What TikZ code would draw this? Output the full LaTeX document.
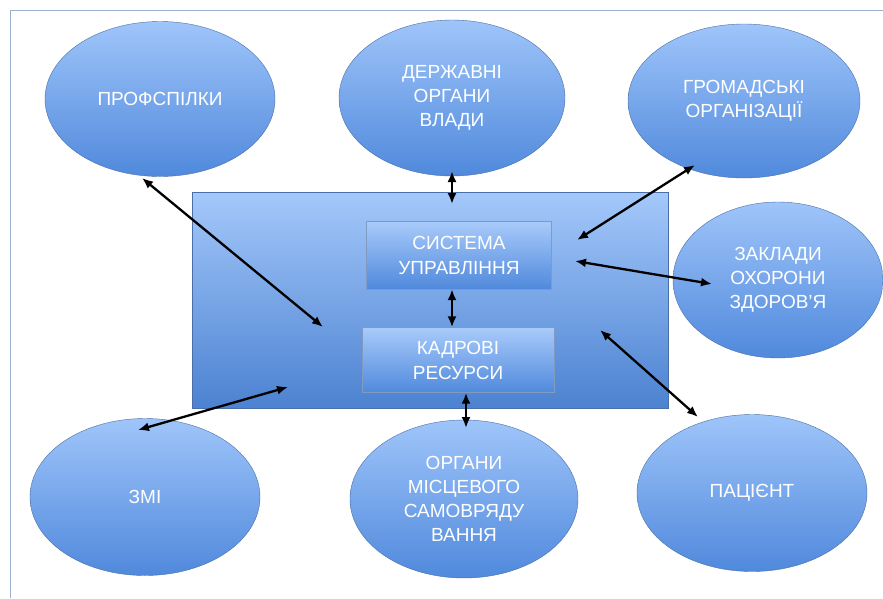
\documentclass[tikz,border=0pt]{standalone}
\usepackage{fontspec}
\setmainfont{Liberation Sans}
\usetikzlibrary{shapes.geometric,arrows.meta}

\definecolor{svitlyj}{HTML}{9FC5FA}
\definecolor{temnyj}{HTML}{5089DC}
\definecolor{kontur}{HTML}{4A6FA8}
\definecolor{ramka}{HTML}{9AB0CC}

\tikzset{
  kolo/.style={ellipse, draw=kontur, thin, top color=svitlyj, bottom color=temnyj,
    minimum width=230pt, minimum height=155pt, inner sep=0pt, text=white,
    align=center, font=\fontsize{19}{24}\selectfont},
  pole/.style={rectangle, draw=kontur, thin, top color=svitlyj!95!white, bottom color=temnyj!95!black,
    minimum width=476pt, minimum height=216pt},
  blok/.style={rectangle, draw=kontur!70, thin, top color=svitlyj!90!white, bottom color=temnyj,
    inner sep=0pt, text=white, align=center, font=\fontsize{19}{25}\selectfont},
  zv/.style={{Latex[length=11pt,width=9pt]}-{Latex[length=11pt,width=9pt]}, line width=2.3pt, black}
}

\begin{document}
\begin{tikzpicture}[x=1pt,y=-1pt]
\useasboundingbox (0,0) rectangle (883,598);
\fill[white] (0,0) rectangle (883,598);
\draw[ramka, line width=1pt] (883,10) -- (10,10) -- (10,598);

\node[pole] (pole) at (430,300) {};
\node[blok, minimum width=185pt, minimum height=68pt] (sys) at (459,255) {СИСТЕМА\\УПРАВЛІННЯ};
\node[blok, minimum width=192pt, minimum height=65pt] (kadr) at (458,360) {КАДРОВІ\\РЕСУРСИ};

\node[kolo] (prof) at (160,99) {ПРОФСПІЛКИ};
\node[kolo, minimum width=226pt, minimum height=156pt] (derzh) at (452,98) {ДЕРЖАВНІ\\ОРГАНИ\\ВЛАДИ};
\node[kolo, minimum width=232pt, minimum height=154pt] (hrom) at (744,101) {ГРОМАДСЬКІ\\ОРГАНІЗАЦІЇ};
\node[kolo, minimum width=210pt, minimum height=156pt] (zakl) at (778,280) {ЗАКЛАДИ\\ОХОРОНИ\\ЗДОРОВ’Я};
\node[kolo, minimum height=157pt] (zmi) at (145,497) {ЗМІ};
\node[kolo, minimum width=228pt, minimum height=158pt] (org) at (464,499) {ОРГАНИ\\МІСЦЕВОГО\\САМОВРЯДУ\\ВАННЯ};
\node[kolo, minimum height=157pt] (pac) at (752,493) {ПАЦІЄНТ};

\coordinate (k_prof) at (323,327);
\coordinate (k_derzh) at (452,204);
\coordinate (k_hrom) at (577,240);
\coordinate (k_zakl) at (575,261);
\coordinate (k_pac) at (600,330);
\coordinate (k_zmi) at (288,387);

\foreach \a/\d/\b in {prof/{(-18,79)}/k_prof, derzh/{(0,73)}/k_derzh, hrom/{(-49,64)}/k_hrom,
  zakl/{(-66,4)}/k_zakl, pac/{(-54,-76)}/k_pac, zmi/{(-7,-67)}/k_zmi} {
  \draw[zv] ([shift=\d]\a.center) -- (\b);
}
\draw[zv] ([xshift=-7pt]sys.south) -- ([xshift=-6pt]kadr.north);
\draw[zv] ([xshift=8pt]kadr.south) -- ([shift={(2,-71)}]org.center);
\end{tikzpicture}
\end{document}
